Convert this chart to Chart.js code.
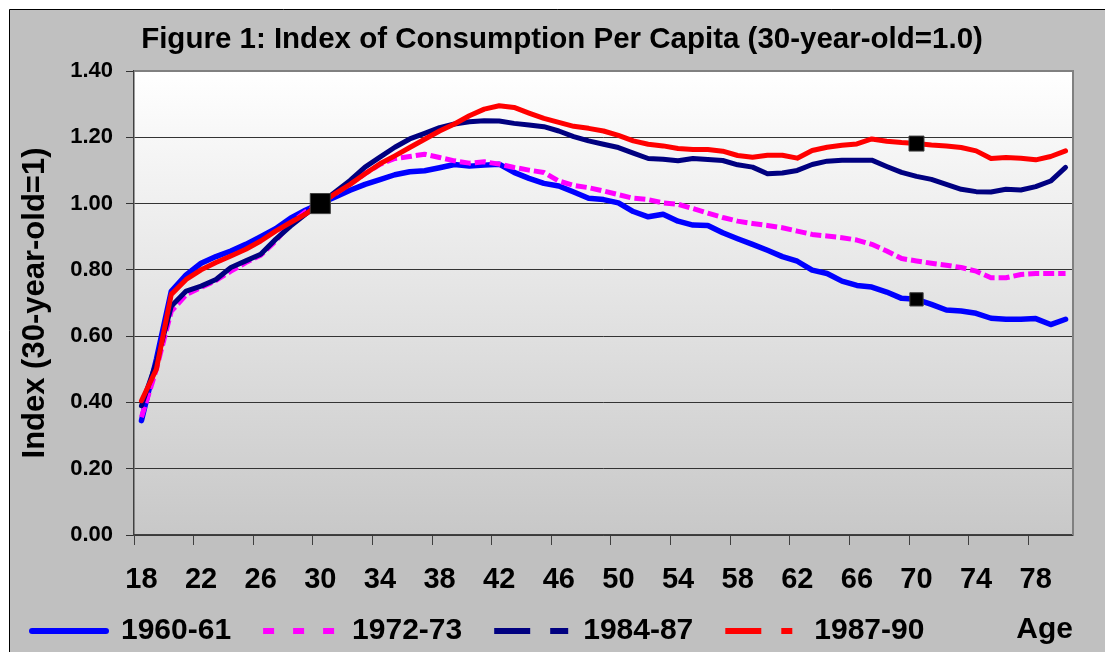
<!DOCTYPE html>
<html>
<head>
<meta charset="utf-8">
<script src="https://cdn.jsdelivr.net/npm/chart.js@4/dist/chart.umd.min.js"></script>
<style>
  html, body { margin: 0; padding: 0; background: #fff; overflow: hidden; }
</style>
</head>
<body>
<canvas id="myChart" width="1105" height="652"></canvas>
<script>
// ages on the category axis
const ages = [18, 19, 20, 21, 22, 23, 24, 25, 26, 27, 28, 29, 30, 31, 32, 33, 34, 35, 36, 37, 38, 39, 40,
  41, 42, 43, 44, 45, 46, 47, 48, 49, 50, 51, 52, 53, 54, 55, 56, 57, 58, 59, 60, 61, 62, 63, 64, 65,
  66, 67, 68, 69, 70, 71, 72, 73, 74, 75, 76, 77, 78, 79, 80];
const tickAges = [18, 22, 26, 30, 34, 38, 42, 46, 50, 54, 58, 62, 66, 70, 74, 78];
const yTicks = [0, 0.2, 0.4, 0.6, 0.8, 1.0, 1.2, 1.4];

const seriesNames = ["1960-61", "1972-73", "1984-87", "1987-90"];

const c1960 = [0.345, 0.53, 0.735, 0.785, 0.82, 0.84, 0.857, 0.877, 0.90, 0.924, 0.956, 0.98, 1.00,
  1.02, 1.04, 1.058, 1.072, 1.087, 1.096, 1.099, 1.108, 1.118, 1.113, 1.116, 1.119, 1.094, 1.076,
  1.061, 1.053, 1.035, 1.016, 1.012, 1.002, 0.976, 0.960, 0.968, 0.947, 0.935, 0.934, 0.912, 0.894,
  0.877, 0.859, 0.840, 0.826, 0.799, 0.789, 0.766, 0.753, 0.748, 0.733, 0.714, 0.711, 0.696, 0.679,
  0.676, 0.669, 0.654, 0.651, 0.651, 0.653, 0.635, 0.651];
const c1972 = [0.355, 0.50, 0.675, 0.725, 0.747, 0.768, 0.796, 0.822, 0.844, 0.887, 0.94, 0.975, 1.00,
  1.03, 1.06, 1.09, 1.118, 1.136, 1.142, 1.149, 1.139, 1.129, 1.122, 1.126, 1.119, 1.109, 1.101,
  1.094, 1.068, 1.055, 1.048, 1.038, 1.027, 1.016, 1.012, 1.002, 0.998, 0.985, 0.971, 0.958, 0.947,
  0.940, 0.934, 0.927, 0.917, 0.907, 0.902, 0.897, 0.890, 0.877, 0.857, 0.834, 0.827, 0.820, 0.814,
  0.807, 0.796, 0.776, 0.776, 0.786, 0.789, 0.789, 0.789];
const c1984 = [0.39, 0.52, 0.69, 0.736, 0.751, 0.771, 0.807, 0.827, 0.847, 0.892, 0.932, 0.968, 1.00,
  1.035, 1.07, 1.11, 1.140, 1.170, 1.195, 1.212, 1.229, 1.240, 1.247, 1.250, 1.249, 1.242, 1.237,
  1.232, 1.219, 1.202, 1.189, 1.179, 1.169, 1.152, 1.136, 1.134, 1.129, 1.136, 1.133, 1.130, 1.117,
  1.110, 1.090, 1.092, 1.100, 1.118, 1.128, 1.131, 1.131, 1.131, 1.112, 1.094, 1.082, 1.073, 1.058,
  1.043, 1.036, 1.035, 1.043, 1.041, 1.051, 1.068, 1.109];
const c1987 = [0.405, 0.50, 0.726, 0.771, 0.80, 0.822, 0.842, 0.862, 0.887, 0.917, 0.943, 0.968, 1.00,
  1.03, 1.058, 1.09, 1.12, 1.144, 1.169, 1.194, 1.219, 1.240, 1.265, 1.285, 1.295, 1.290, 1.273,
  1.257, 1.245, 1.233, 1.227, 1.219, 1.206, 1.189, 1.179, 1.174, 1.166, 1.163, 1.163, 1.158, 1.145,
  1.140, 1.146, 1.146, 1.137, 1.160, 1.170, 1.176, 1.180, 1.195, 1.188, 1.184, 1.181, 1.177, 1.174,
  1.169, 1.159, 1.136, 1.139, 1.137, 1.132, 1.142, 1.159];

Chart.defaults.font.family = '"Liberation Sans", Arial, sans-serif';
Chart.defaults.font.weight = 'bold';
Chart.defaults.color = '#000';

const legendDash = [[], [11, 19], [36, 20], [36, 20, 11, 20]];

// grey frame, white-to-grey plot area, plot border
const backdrop = {
  id: 'backdrop',
  afterLayout(chart) {
    // x scale is squeezed so the legend sits higher; let its labels draw below it
    const x = chart.scales.x;
    x.bottom = x.top + 70;
  },
  beforeDraw(chart) {
    const ctx = chart.ctx;
    const a = chart.chartArea;
    ctx.save();
    ctx.fillStyle = '#fff';
    ctx.fillRect(0, 0, chart.width, chart.height);
    ctx.fillStyle = '#c0c0c0';
    ctx.fillRect(9, 9, chart.width, chart.height);
    ctx.strokeStyle = '#000';
    ctx.lineWidth = 1;
    ctx.beginPath();
    ctx.moveTo(9.5, chart.height);
    ctx.lineTo(9.5, 9.5);
    ctx.lineTo(chart.width, 9.5);
    ctx.stroke();
    const g = ctx.createLinearGradient(0, a.top, 0, a.bottom);
    g.addColorStop(0, '#ffffff');
    g.addColorStop(1, '#c8c8c8');
    ctx.fillStyle = g;
    ctx.fillRect(a.left, a.top, a.right - a.left, a.bottom - a.top);
    ctx.restore();
  },
  beforeDatasetsDraw(chart) {
    const ctx = chart.ctx;
    const a = chart.chartArea;
    ctx.save();
    ctx.strokeStyle = '#808080';
    ctx.lineWidth = 2;
    ctx.beginPath();
    ctx.moveTo(a.left, a.top);
    ctx.lineTo(a.right, a.top);
    ctx.lineTo(a.right, a.bottom);
    ctx.stroke();
    ctx.restore();
  }
};

function markerSize(sizes) {
  return (ctx) => sizes[ages[ctx.dataIndex]] || 0;
}

new Chart(document.getElementById('myChart'), {
  type: 'line',
  data: {
    labels: ages.map(String),
    datasets: [
      {
        label: seriesNames[0], data: c1960, yAxisID: 'y',
        borderColor: '#0000ff', borderWidth: 5.5, borderCapStyle: 'round', borderJoinStyle: 'round',
        pointStyle: 'rect', pointRadius: markerSize({70: 9.4}),
        pointBackgroundColor: '#000', pointBorderColor: '#404040', pointBorderWidth: 1, order: 4
      },
      {
        label: seriesNames[1], data: c1972, yAxisID: 'y',
        borderColor: '#ff00ff', borderWidth: 5, borderDash: [11, 4], borderJoinStyle: 'round',
        pointRadius: 0, order: 3
      },
      {
        label: seriesNames[2], data: c1984, yAxisID: 'y',
        borderColor: '#000080', borderWidth: 5, borderCapStyle: 'round', borderJoinStyle: 'round',
        pointRadius: 0, order: 2
      },
      {
        label: seriesNames[3], data: c1987, yAxisID: 'y',
        borderColor: '#ff0000', borderWidth: 5, borderCapStyle: 'round', borderJoinStyle: 'round',
        pointStyle: 'rect', pointRadius: markerSize({30: 14.2, 70: 10.6}),
        pointBackgroundColor: '#000', pointBorderColor: '#404040', pointBorderWidth: 1, order: 1
      }
    ]
  },
  options: {
    responsive: false,
    animation: false,
    devicePixelRatio: 1,
    events: [],
    layout: { padding: { left: 0, top: 0, right: -19, bottom: -4 } },
    plugins: {
      title: {
        display: true,
        text: 'Figure 1: Index of Consumption Per Capita (30-year-old=1.0)',
        font: { size: 29.5, weight: 'bold' },
        color: '#000',
        padding: { top: 21.7, bottom: 13.9 }
      },
      legend: {
        position: 'bottom',
        align: 'start',
        labels: {
          font: { size: 30, weight: 'bold' },
          color: '#000',
          padding: 32,
          usePointStyle: true,
          pointStyleWidth: 74,
          generateLabels(chart) {
            return chart.data.datasets.map((ds, i) => ({
              text: ds.label,
              fillStyle: ds.borderColor,
              strokeStyle: ds.borderColor,
              lineWidth: 6,
              lineDash: legendDash[i],
              lineCap: i === 0 ? 'round' : 'butt',
              pointStyle: 'line',
              datasetIndex: i,
              hidden: false
            }));
          }
        }
      },
      tooltip: { enabled: false }
    },
    scales: {
      x: {
        type: 'category',
        offset: true,
        grid: {
          offset: true,
          drawOnChartArea: false,
          drawTicks: true,
          tickLength: 10,
          color: (ctx) => (ctx.index % 4 === 0 && ctx.index < ages.length) ? '#404040' : 'rgba(0,0,0,0)'
        },
        border: { display: true, color: '#404040', width: 1.5 },
        ticks: {
          autoSkip: false,
          maxRotation: 0,
          font: { size: 29, weight: 'bold' },
          color: '#000',
          padding: 18,
          callback: (v, i) => tickAges.includes(ages[i]) ? String(ages[i]) : ''
        },
        title: {
          display: true,
          text: 'Age',
          align: 'end',
          font: { size: 30, weight: 'bold' },
          color: '#000',
          padding: { top: 0, bottom: -43 }
        },
        afterFit(s) { s.height = 49; }
      },
      y: {
        type: 'linear',
        position: 'left',
        min: 0,
        max: 1.4,
        afterBuildTicks(s) { s.ticks = yTicks.map(v => ({ value: v })); },
        grid: { color: '#333', lineWidth: 1, tickLength: 8, drawTicks: true },
        border: { display: true, color: '#404040', width: 1.5 },
        ticks: {
          font: { size: 22, weight: 'bold' },
          color: '#000',
          padding: 13,
          callback: (v) => Number(v).toFixed(2)
        },
        title: {
          display: true,
          text: 'Index (30-year-old=1)',
          font: { size: 31, weight: 'bold' },
          color: '#000',
          padding: { top: 16.4, bottom: 0 }
        },
        afterFit(s) { s.width = 134; }
      },
      yR: {
        type: 'linear',
        position: 'right',
        display: true,
        grid: { display: false },
        border: { display: false },
        ticks: { display: false },
        afterFit(s) { s.width = 51; }
      }
    }
  },
  plugins: [backdrop]
});
</script>
</body>
</html>
